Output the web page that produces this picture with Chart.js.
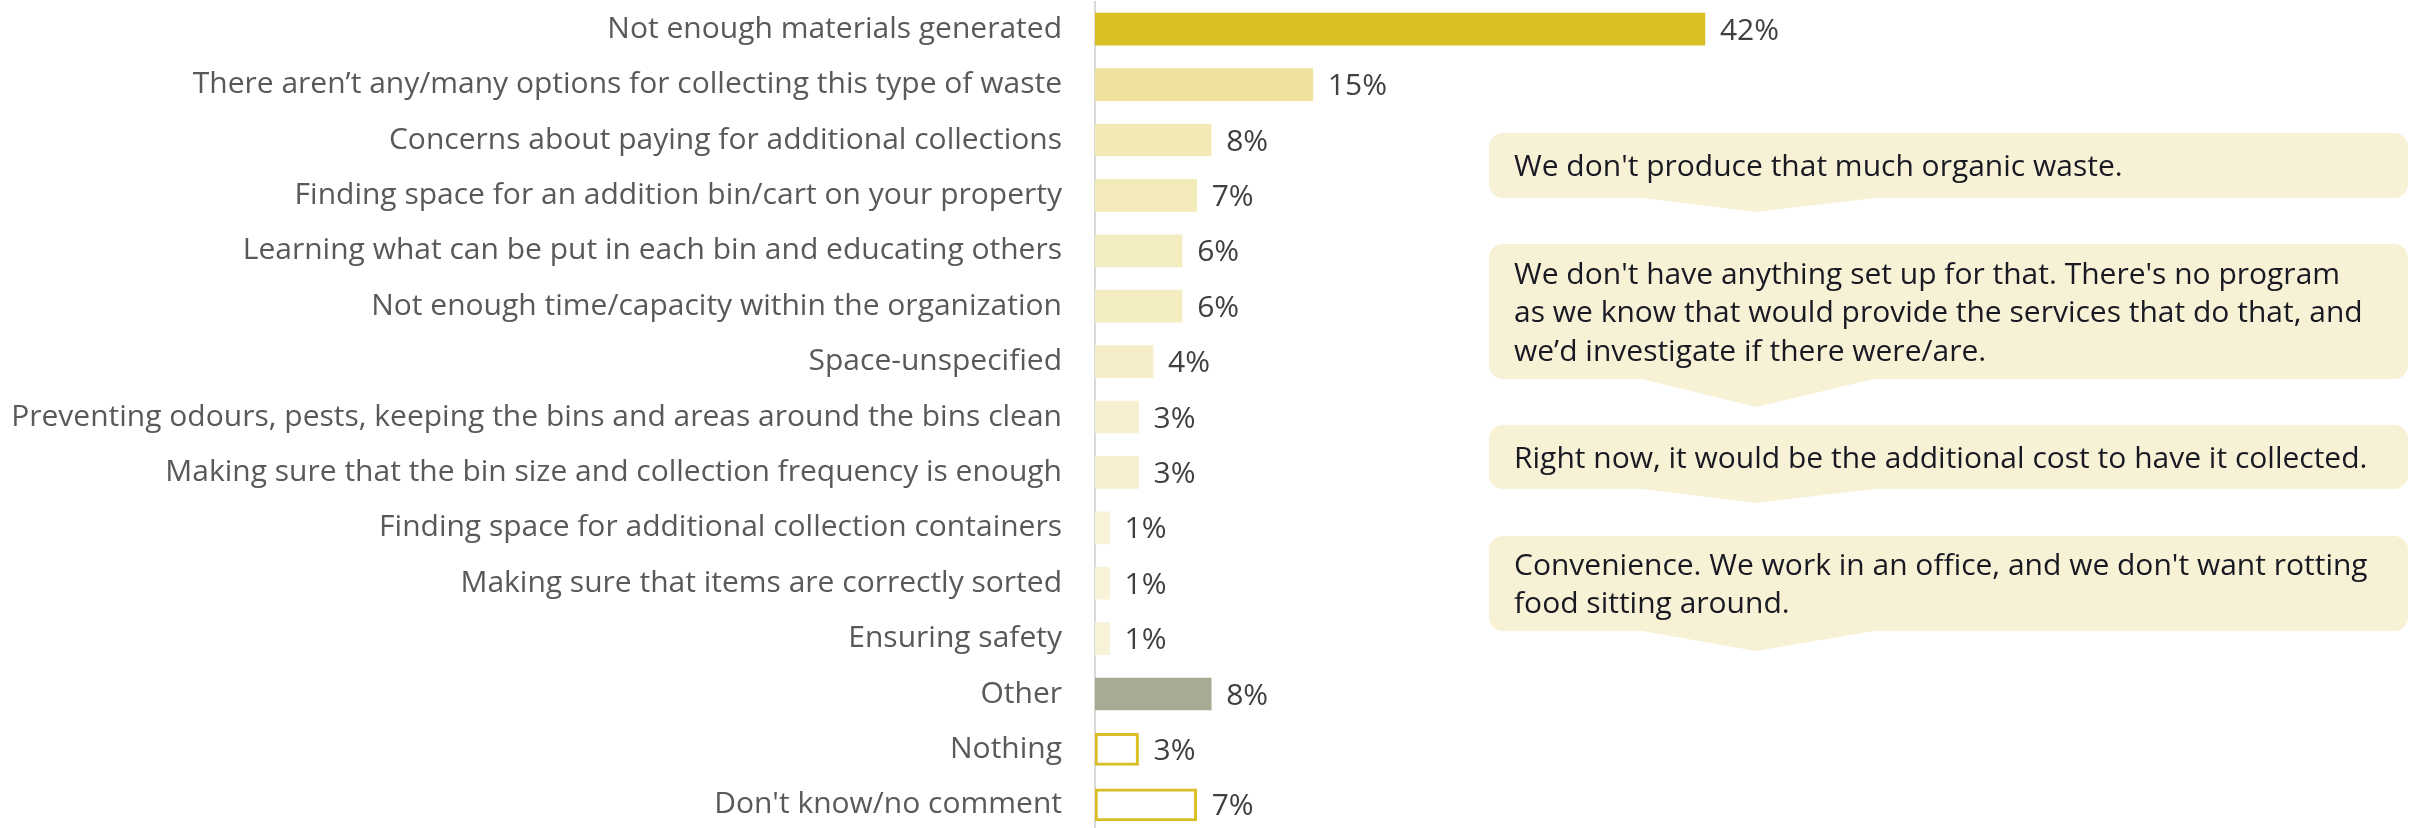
<!DOCTYPE html>
<html>
<head>
<meta charset="utf-8">
<title>Barriers to organics collection</title>
<script src="https://cdn.jsdelivr.net/npm/chart.js@4.4.1/dist/chart.umd.min.js"></script>
<style>
  html, body { margin: 0; padding: 0; background: #fff; overflow: hidden; }
  #wrap { position: relative; width: 2420px; height: 828px; overflow: hidden; }
  canvas { display: block; }
</style>
</head>
<body>
<div id="wrap"><canvas id="barriers" width="2420" height="834"></canvas></div>
<script>
// Response categories, top to bottom
const categories = [
  'Not enough materials generated',
  'There aren’t any/many options for collecting this type of waste',
  'Concerns about paying for additional collections',
  'Finding space for an addition bin/cart on your property',
  'Learning what can be put in each bin and educating others',
  'Not enough time/capacity within the organization',
  'Space-unspecified',
  'Preventing odours, pests, keeping the bins and areas around the bins clean',
  'Making sure that the bin size and collection frequency is enough',
  'Finding space for additional collection containers',
  'Making sure that items are correctly sorted',
  'Ensuring safety',
  'Other',
  'Nothing',
  "Don't know/no comment",
];

// Share of respondents (%)
const shares = [42, 15, 8, 7, 6, 6, 4, 3, 3, 1, 1, 1, 8, 3, 7];

// Verbatim quotes shown beside the bars, one array of lines per quote
const quotes = [
  ["We don't produce that much organic waste."],
  ["We don't have anything set up for that. There's no program",
   'as we know that would provide the services that do that, and',
   'we’d investigate if there were/are.'],
  ['Right now, it would be the additional cost to have it collected.'],
  ["Convenience. We work in an office, and we don't want rotting",
   'food sitting around.'],
];

const FONT = '"Open Sans", "Noto Sans", sans-serif';
const GOLD = '#D9BF24';

// fill per bar: strongest reason in gold, the rest fading with size
const barFill = [
  GOLD, '#EEE29C', '#F2E9B6', '#F3EAB9', '#F4ECC1', '#F4ECC1', '#F5EEC8',
  '#F6F0D0', '#F6F0D0', '#F7F2D8', '#F7F2D8', '#F7F2D8',
  '#A8AA94', '#FFFFFF', '#FFFFFF',
];
const barBorder = barFill.map((c, i) => (i >= 13 ? GOLD : c));
const barBorderWidth = barFill.map((c, i) => (i >= 13 ? 3 : 0));

// speech-bubble boxes: top, bottom and tail tip y
const bubbles = [
  { top: 133, bottom: 198, tip: 212 },
  { top: 244, bottom: 379, tip: 407 },
  { top: 425, bottom: 489, tip: 503 },
  { top: 536, bottom: 631, tip: 651 },
];
const BUBBLE = { left: 1489, right: 2408, radius: 14, tailL: 1642, tailR: 1874, tailX: 1756,
                 fill: '#F7F1D5', padX: 25, lineH: 38.5 };

// percentage label at the end of each bar
const valueLabels = {
  id: 'valueLabels',
  afterDatasetsDraw(chart) {
    const { ctx } = chart;
    const meta = chart.getDatasetMeta(0);
    ctx.save();
    ctx.font = `30px ${FONT}`;
    ctx.fillStyle = '#404040';
    ctx.textAlign = 'left';
    ctx.textBaseline = 'middle';
    meta.data.forEach((bar, i) => {
      ctx.fillText(`${shares[i]}%`, bar.x + 15, bar.y + 2);
    });
    ctx.restore();
  },
};

// quote callouts to the right of the bars
const quoteBubbles = {
  id: 'quoteBubbles',
  afterDraw(chart) {
    const { ctx } = chart;
    const b = BUBBLE;
    ctx.save();
    bubbles.forEach((box, i) => {
      const r = b.radius;
      ctx.beginPath();
      ctx.moveTo(b.left + r, box.top);
      ctx.lineTo(b.right - r, box.top);
      ctx.arcTo(b.right, box.top, b.right, box.top + r, r);
      ctx.lineTo(b.right, box.bottom - r);
      ctx.arcTo(b.right, box.bottom, b.right - r, box.bottom, r);
      ctx.lineTo(b.tailR, box.bottom);
      ctx.lineTo(b.tailX, box.tip);
      ctx.lineTo(b.tailL, box.bottom);
      ctx.lineTo(b.left + r, box.bottom);
      ctx.arcTo(b.left, box.bottom, b.left, box.bottom - r, r);
      ctx.lineTo(b.left, box.top + r);
      ctx.arcTo(b.left, box.top, b.left + r, box.top, r);
      ctx.closePath();
      ctx.fillStyle = b.fill;
      ctx.fill();

      const lines = quotes[i];
      const mid = (box.top + box.bottom) / 2 + 2;
      const y0 = mid - ((lines.length - 1) * b.lineH) / 2;
      ctx.font = `30px ${FONT}`;
      ctx.fillStyle = '#191923';
      ctx.textAlign = 'left';
      ctx.textBaseline = 'middle';
      lines.forEach((line, j) => ctx.fillText(line, b.left + b.padX, y0 + j * b.lineH));
    });
    ctx.restore();
  },
};

function drawChart() {
  new Chart(document.getElementById('barriers'), {
    type: 'bar',
    data: {
      labels: categories,
      datasets: [{
        data: shares,
        backgroundColor: barFill,
        borderColor: barBorder,
        borderWidth: barBorderWidth,
        borderSkipped: false,
        barThickness: 32,
      }],
    },
    options: {
      indexAxis: 'y',
      responsive: false,
      animation: false,
      layout: { autoPadding: false, padding: { top: 0, bottom: 0, left: 0, right: 18 } },
      plugins: {
        legend: { display: false },
        tooltip: { enabled: false },
      },
      scales: {
        x: { min: 0, max: 90, display: false },
        y: {
          afterFit: scale => { scale.width = 1095; },
          // the (hidden) tick length pushes the labels away from the axis;
          // tick padding would also add space above and below the bars
          grid: { display: false, drawTicks: true, tickLength: 33 },
          border: { display: true, color: '#D9D9D9', width: 2 },
          ticks: {
            autoSkip: false,
            padding: 0,
            color: '#595959',
            // tiny line height keeps the first/last label from padding the plot
            font: { family: FONT, size: 30, lineHeight: 0.1 },
          },
        },
      },
    },
    plugins: [valueLabels, quoteBubbles],
  });
}

document.fonts.load(`30px ${FONT}`).then(drawChart, drawChart);
</script>
</body>
</html>
